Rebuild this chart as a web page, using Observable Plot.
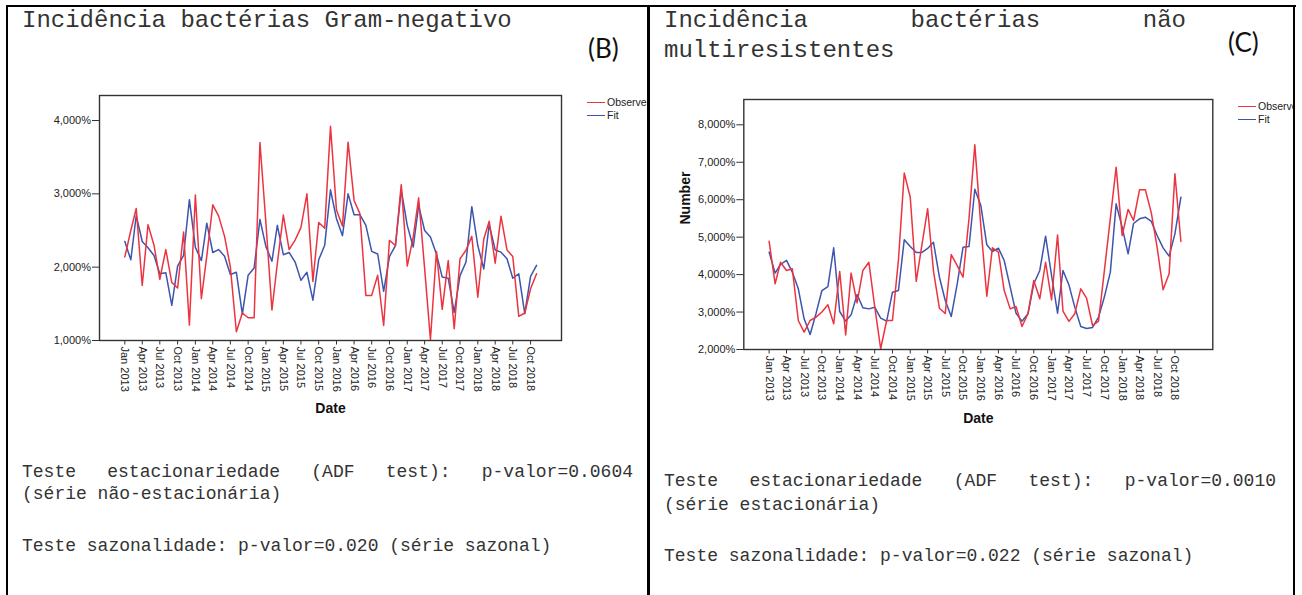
<!DOCTYPE html>
<html>
<head>
<meta charset="utf-8">
<script src="https://cdn.jsdelivr.net/npm/d3@7"></script>
<script src="https://cdn.jsdelivr.net/npm/@observablehq/plot@0.6"></script>
<style>
  html, body { margin: 0; padding: 0; background: #fff; }
  body { width: 1302px; height: 595px; position: relative; overflow: hidden; }
  .panel { position: absolute; top: 0; height: 595px; overflow: hidden; }
  .mono { position: absolute; font-family: "Liberation Mono", "Courier New", monospace; color: #333; white-space: pre; line-height: 1; }
  .just { text-align: justify; text-align-last: justify; white-space: normal; }
  .tag { position: absolute; font-family: Lato, "Open Sans", sans-serif; color: #111; line-height: 1; }
  .legend { position: absolute; font-family: "Liberation Sans", Arial, sans-serif; font-size: 10.5px; color: #222; line-height: 1; white-space: nowrap; }
  .legend span.sw { display: inline-block; width: 18px; height: 0; border-top: 1.6px solid; vertical-align: middle; margin-right: 2px; position: relative; top: -1px; }
  .rule { position: absolute; background: #000; }
  svg.plot-svg { position: absolute; left: 0; top: 0; }
</style>
</head>
<body>
<div id="left" class="panel" style="left:0;width:647px;"></div>
<div id="right" class="panel" style="left:650px;width:643px;"></div>
<div class="rule" style="left:6px;top:5px;width:1290px;height:2px;"></div>
<div class="rule" style="left:6px;top:5px;width:2px;height:590px;"></div>
<div class="rule" style="left:647px;top:5px;width:3px;height:590px;"></div>
<div class="rule" style="left:1293px;top:5px;width:2px;height:590px;"></div>
<script>
// ---- Data ----
const startMonth = new Date(Date.UTC(2013, 0, 1));
const endMonth = new Date(Date.UTC(2018, 11, 1)); // exclusive -> last month Nov 2018
const months = d3.utcMonth.range(startMonth, endMonth); // 71 months

const gramNegObserved = [2140,2500,2800,1750,2580,2300,1835,2240,1790,1715,2480,1210,
  2985,1570,2150,2850,2700,2420,2000,1120,1375,1310,1310,3700,
  2600,1415,2050,2710,2240,2370,2540,3000,1805,2610,2530,3920,
  2780,2560,3705,2910,2730,1615,1615,1890,1205,2365,2295,3125,
  2015,2410,2945,1980,1010,2215,1425,2090,1160,2115,2230,2420,
  1590,2385,2625,2055,2695,2235,2145,1330,1375,1705,1910];
const gramNegFit = [2350,2100,2705,2350,2265,2160,1910,1925,1480,2015,2160,2920,
  2270,2090,2600,2200,2240,2150,1900,1930,1360,1890,1990,2650,
  2280,2080,2570,2170,2200,2070,1820,1930,1550,2100,2300,3055,
  2660,2430,3000,2715,2715,2570,2215,2180,1670,2145,2295,3055,
  2570,2275,2840,2500,2410,2180,1865,1850,1385,1885,2070,2825,
  2295,1975,2580,2235,2205,2115,1850,1910,1365,1875,2025];
const naoMultiObserved = [4890,3755,4330,4110,4155,2775,2465,2775,2865,3000,3195,2685,
  4085,2390,4040,3245,4110,4330,3150,2020,2775,2775,4400,6710,
  6065,3820,4750,5760,4100,3100,2960,4535,4240,3930,5500,7465,
  5300,3425,4715,4600,3575,3085,3150,2615,2955,3845,3355,4330,
  3325,5060,3025,2750,2955,3620,3370,2640,2760,4100,5500,6870,
  5045,5740,5445,6265,6265,5650,4730,3595,4020,6690,4885];
const naoMultiFit = [4600,4040,4270,4380,4065,3620,2820,2400,2970,3575,3680,4715,
  3015,2760,2925,3470,3115,3085,3130,2840,2757,3530,3575,4930,
  4750,4590,4590,4700,4866,3930,3310,2880,3750,4730,4750,6280,
  5846,4795,4617,4706,4377,3665,2970,2757,2953,3754,4110,5027,
  3976,2970,4110,3720,3131,2614,2560,2590,2864,3400,4065,5890,
  5267,4555,5365,5490,5534,5420,5045,4715,4493,5089,6068];

const seriesNames = ["Observed", "Fit"];
const leftYTicks = [1000, 2000, 3000, 4000];
const rightYTicks = [2000, 3000, 4000, 5000, 6000, 7000, 8000];
const xTickMonths = months.filter((d, i) => i % 3 === 0); // Jan, Apr, Jul, Oct
const RED = "#ec3440";
const BLUE = "#3d55ad";

const rows = (vals) => vals.map((v, i) => ({date: months[i], value: v}));
const pct = (d) => d3.format(",")(d) + "%";
const monthLabel = d3.utcFormat("%b %Y");

function chart(o) {
  return Plot.plot({
    width: o.width, height: o.height,
    marginLeft: o.ml, marginRight: o.mr, marginTop: o.mt, marginBottom: o.mb,
    x: {type: "utc", domain: o.xDomain},
    y: {domain: o.yDomain},
    style: {background: "transparent", color: "#222", fontFamily: "'Liberation Sans', Arial, sans-serif", fontSize: "11px", overflow: "visible"},
    marks: [
      Plot.line(rows(o.fit), {x: "date", y: "value", stroke: BLUE, strokeWidth: 1.5}),
      Plot.line(rows(o.obs), {x: "date", y: "value", stroke: RED, strokeWidth: 1.5}),
      Plot.frame({stroke: "#333", strokeWidth: 1.4}),
      Plot.axisY({ticks: o.yTicks, tickFormat: pct, tickSize: 7, tickPadding: 1.5, fontSize: 11, label: null, stroke: "#333"}),
      Plot.axisX({ticks: xTickMonths, tickFormat: monthLabel, tickRotate: 90, tickSize: 4.5, tickPadding: 1.5, fontSize: 11, label: null, stroke: "#333"}),
      Plot.text(["Date"], {frameAnchor: "bottom", dy: o.dateDy, fontWeight: "bold", fontSize: 14, fill: "#111"}),
      ...(o.yLabel ? [Plot.text([o.yLabel], {frameAnchor: "left", dx: o.yLabelDx, rotate: -90, fontWeight: "bold", fontSize: 14, fill: "#111"})] : [])
    ]
  });
}

function addText(parent, cls, text, x, baseline, size, extra) {
  const d = document.createElement("div");
  d.className = cls;
  d.textContent = text;
  const asc = cls.includes("tag") ? 0.887 : 0.766;
  d.style.left = x + "px";
  d.style.top = (baseline - asc * size) + "px";
  d.style.fontSize = size + "px";
  if (extra) Object.assign(d.style, extra);
  parent.appendChild(d);
  return d;
}

function addLegend(parent, x, y0, gap) {
  [[seriesNames[0], RED], [seriesNames[1], BLUE]].forEach(([name, c], i) => {
    const d = document.createElement("div");
    d.className = "legend";
    d.style.left = x + "px";
    d.style.top = (y0 + i * gap - 5.5) + "px";
    d.innerHTML = `<span class="sw" style="border-color:${c}"></span>${name}`;
    parent.appendChild(d);
  });
}

// ---- Left panel (B) ----
const left = document.getElementById("left");
const leftSvg = chart({
  width: 647, height: 430, ml: 99, mr: 647 - 561, mt: 95, mb: 430 - 340,
  xDomain: [d3.utcDay.offset(months[0], -131), d3.utcDay.offset(months[70], 129)],
  yDomain: [1000, 4341], yTicks: leftYTicks,
  obs: gramNegObserved, fit: gramNegFit, dateDy: 72
});
leftSvg.classList.add("plot-svg");
left.appendChild(leftSvg);
addText(left, "mono", "Incidência bactérias Gram-negativo", 22, 27, 24);
addText(left, "tag", "(B)", 588, 58, 26);
addLegend(left, 587, 102.5, 13);
addText(left, "mono just", "Teste estacionariedade (ADF test): p-valor=0.0604", 22, 477, 18, {width: "611px"});
addText(left, "mono", "(série não-estacionária)", 22, 499, 18);
addText(left, "mono", "Teste sazonalidade: p-valor=0.020 (série sazonal)", 22, 551, 18);

// ---- Right panel (C) ----
const right = document.getElementById("right");
const rightSvg = chart({
  width: 643, height: 440, ml: 93.3, mr: 643 - 562.3, mt: 99, mb: 440 - 349,
  xDomain: [d3.utcDay.offset(months[0], -131), d3.utcDay.offset(months[70], 165)],
  yDomain: [2000, 8676], yTicks: rightYTicks,
  obs: naoMultiObserved, fit: naoMultiFit, dateDy: 73,
  yLabel: "Number", yLabelDx: -58
});
rightSvg.classList.add("plot-svg");
right.appendChild(rightSvg);
addText(right, "mono just", "Incidência bactérias não", 14, 27, 24, {width: "522px"});
addText(right, "mono", "multiresistentes", 14, 57, 24);
addText(right, "tag", "(C)", 578, 52, 26);
addLegend(right, 588, 106.5, 13);
addText(right, "mono just", "Teste estacionariedade (ADF test): p-valor=0.0010", 14, 486, 18, {width: "612px"});
addText(right, "mono", "(série estacionária)", 14, 510, 18);
addText(right, "mono", "Teste sazonalidade: p-valor=0.022 (série sazonal)", 14, 561, 18);
</script>
</body>
</html>
